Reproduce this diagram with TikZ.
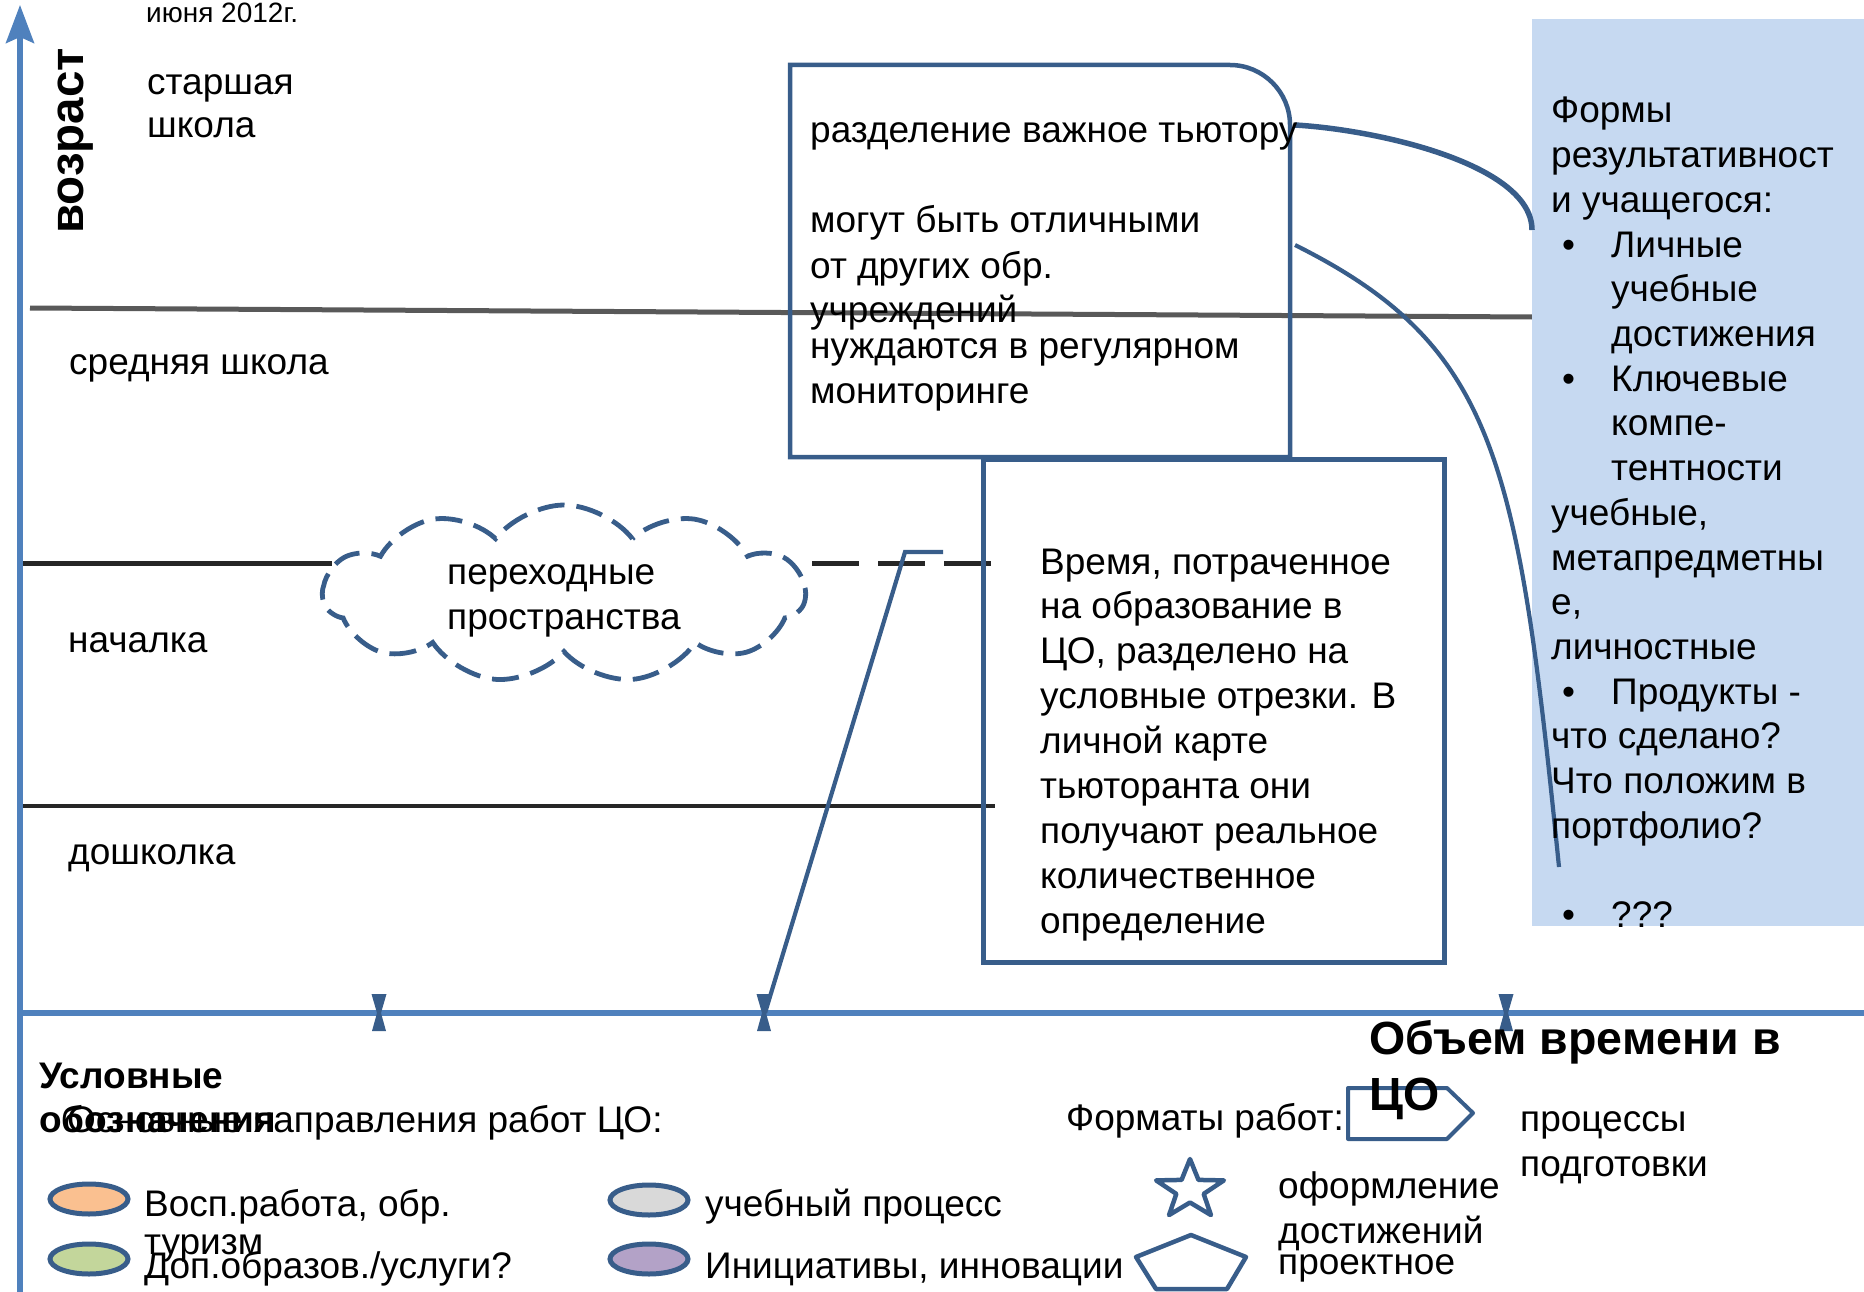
\documentclass[tikz,border=0pt]{standalone}
\usepackage{fontspec}
\setmainfont{Liberation Sans}
\usetikzlibrary{arrows.meta,shapes.symbols,shapes.geometric}
\definecolor{axisblue}{HTML}{4F81BD}
\definecolor{boxblue}{HTML}{385D8A}
\definecolor{panelblue}{HTML}{C6D9F1}
\definecolor{grayline}{HTML}{595959}
\definecolor{darkline}{HTML}{262626}
\definecolor{ovorange}{HTML}{FAC090}
\definecolor{ovgreen}{HTML}{C3D69B}
\definecolor{ovgray}{HTML}{D9D9D9}
\definecolor{ovpurple}{HTML}{B3A2C7}
\begin{document}
\begin{tikzpicture}[x=1pt,y=-1pt,
  txt/.style={anchor=base west,inner sep=0pt,font=\fontsize{37}{44.7}\selectfont},
  btxt/.style={anchor=base west,inner sep=0pt,font=\bfseries\fontsize{37}{44.7}\selectfont},
  conn/.style={draw=boxblue,line width=4.2pt},
  boxline/.style={draw=boxblue,line width=4.5pt},
  oval/.style={ellipse,draw=boxblue,line width=5pt,minimum width=78pt,minimum height=30pt,inner sep=0pt},
  tick/.style={fill=boxblue},
]
\useasboundingbox (0,0) rectangle (1864,1292);

% level lines
\draw[grayline,line width=5pt] (30,308) -- (1532,317);
\draw[darkline,line width=5pt] (20,563) -- (332,563);
\draw[darkline,line width=5pt,dash pattern=on 47pt off 19pt] (350,563) -- (992,563);
\draw[darkline,line width=3.5pt] (20,806) -- (995,806);

% right panel
\fill[panelblue] (1532,19) rectangle (1864,926);

% axes
\draw[axisblue,line width=5.5pt] (20,1013) -- (1864,1013);
\draw[axisblue,line width=5.5pt,-{Stealth[length=38pt,width=28pt,inset=6pt]}] (20,1292) -- (20,5);

% ticks (hourglass marks)
\foreach \tx in {379,764,1506}
  \fill[tick] (\tx-7.5,994) -- (\tx+7.5,994) -- (\tx+2,1013) -- (\tx+7,1031) -- (\tx-7,1031) -- (\tx-2,1013) -- cycle;

% box 1 (rounded top-right corner)
\coordinate (b1tl) at (790,65);
\coordinate (b1br) at (1290,457);
\draw[boxline] (790,457) -- (b1tl) -- (1230,65) .. controls (1263,65) and (1290,92) .. (1290,125) -- (b1br) -- cycle;

% box 2
\node[boxline,draw,anchor=north west,minimum width=461pt,minimum height=503pt,inner sep=0pt] (box2) at (981,457) {};

% cloud
\node[cloud,cloud puffs=11,cloud puff arc=105,cloud ignores aspect,draw=boxblue,line width=4.8pt,
      dash pattern=on 27pt off 12pt,fill=white,minimum width=482pt,minimum height=178pt,inner sep=0pt] (cloud) at (564,594) {};

% diagonal connector
\coordinate (dlb) at (765,1013);
\coordinate (dlt) at (905,552);
\coordinate (dle) at (943,552);
\draw[conn] (dlb) -- (dlt) -- (dle);

% curves from box 1 to panel
\coordinate (c1s) at (1295,125);
\coordinate (c1e) at (1532,230);
\draw[conn,line width=5.5pt] (c1s) .. controls (1380,130) and (1532,165) .. (c1e);
\coordinate (c2s) at (1295,245);
\coordinate (c2e) at (1559,867);
\draw[conn] (c2s) .. controls (1497,346) and (1518,461) .. (c2e);

% top-left texts
\node[txt,font=\fontsize{28}{32}\selectfont] (date) at (146,23) {июня 2012г.};
\node[txt] (ss1) at (147,95) {старшая};
\node[txt] (ss2) at (147,138) {школа};
\node[anchor=base west,inner sep=0pt,font=\bfseries\fontsize{47.5}{50}\selectfont,rotate=90] (age) at (83,234) {возраст};
\node[txt] (mid) at (69,374) {средняя школа};
\node[txt] (nach) at (68,652) {началка};
\node[txt] (dosh) at (68,864) {дошколка};

% box 1 text
\node[txt] (b1a) at (810,143) {разделение важное тьютору};
\node[txt] (b1b) at (810,233) {могут быть отличными};
\node[txt] (b1c) at (810,278) {от других обр.};
\node[txt] (b1d) at (810,322) {учреждений};
\node[txt] (b1e) at (810,358) {нуждаются в регулярном};
\node[txt] (b1f) at (810,403) {мониторинге};

% box 2 text
\foreach \t [count=\i from 0] in {{Время, потраченное},на образование в,{ЦО, разделено на},условные отрезки. В,личной карте,тьюторанта они,получают реальное,количественное,определение}
  \node[txt] (b2l\i) at (1040,574+44.9*\i) {\t};

% cloud text
\node[txt] (cl1) at (447,584) {переходные};
\node[txt] (cl2) at (447,629) {пространства};

% panel text
\foreach \x/\k/\t in {1551/0/Формы,1551/1/результативност,1551/2/и учащегося:,1611/3/Личные,1611/4/учебные,1611/5/достижения,1611/6/Ключевые,1611/7/компе-,1611/8/тентности,1551/9/{учебные,},1551/10/метапредметны,1551/11/{е,},1551/12/личностные,1611/13/Продукты -,1551/14/что сделано?,1551/15/Что положим в,1551/16/портфолио?,1611/18/???}
  \node[txt] (p\k) at (\x,123+44.7*\k) {\t};
\foreach \k in {3,6,13,18}
  \node[txt] (pb\k) at (1562,123+44.7*\k) {•};

% legend
\node[oval,fill=ovorange] (ov1) at (89,1199) {};
\node[oval,fill=ovgreen] (ov2) at (89,1259) {};
\node[oval,fill=ovgray] (ov3) at (649,1200) {};
\node[oval,fill=ovpurple] (ov4) at (649,1259) {};

\node[btxt] (leg1) at (39,1088) {Условные};
\node[btxt] (leg2) at (39,1132) {обозначения};
\node[txt] (osn) at (67,1132) {Основные направления работ ЦО:};
\node[txt] (t1) at (144,1216) {Восп.работа, обр.};
\node[txt] (t1b) at (144,1254) {туризм};
\node[txt] (t2) at (144,1278) {Доп.образов./услуги?};
\node[txt] (t3) at (705,1216) {учебный процесс};
\node[txt] (t4) at (705,1278) {Инициативы, инновации};

\node[txt] (fmt) at (1066,1130) {Форматы работ:};
\draw[boxblue,line width=4pt,line join=round] (1348,1088) -- (1447,1088) -- (1473,1113) -- (1447,1139) -- (1348,1139) -- cycle;
\node[txt] (proc1) at (1520,1131) {процессы};
\node[txt] (proc2) at (1520,1176) {подготовки};

\begin{scope}[shift={(1190,1190)},xscale=1.15,yscale=-1]
\draw[boxblue,line width=4.5pt,line join=round] (90:31) -- (126:12.5) -- (162:31) -- (198:12.5) -- (234:31) -- (270:12.5) -- (306:31) -- (342:12.5) -- (18:31) -- (54:12.5) -- cycle;
\end{scope}
\node[txt] (of1) at (1278,1198) {оформление};
\node[txt] (of2) at (1278,1243) {достижений};
\draw[boxblue,line width=4.5pt,line join=round] (1191,1235) -- (1246,1257) -- (1227,1289) -- (1156,1289) -- (1136,1257) -- cycle;
\node[txt] (proj) at (1278,1274) {проектное};

\node[anchor=base west,inner sep=0pt,font=\bfseries\fontsize{46.5}{52}\selectfont] (vol1) at (1369,1054) {Объем времени в};
\node[anchor=base west,inner sep=0pt,font=\bfseries\fontsize{46.5}{52}\selectfont] (vol2) at (1369,1110) {ЦО};
\end{tikzpicture}
\end{document}
